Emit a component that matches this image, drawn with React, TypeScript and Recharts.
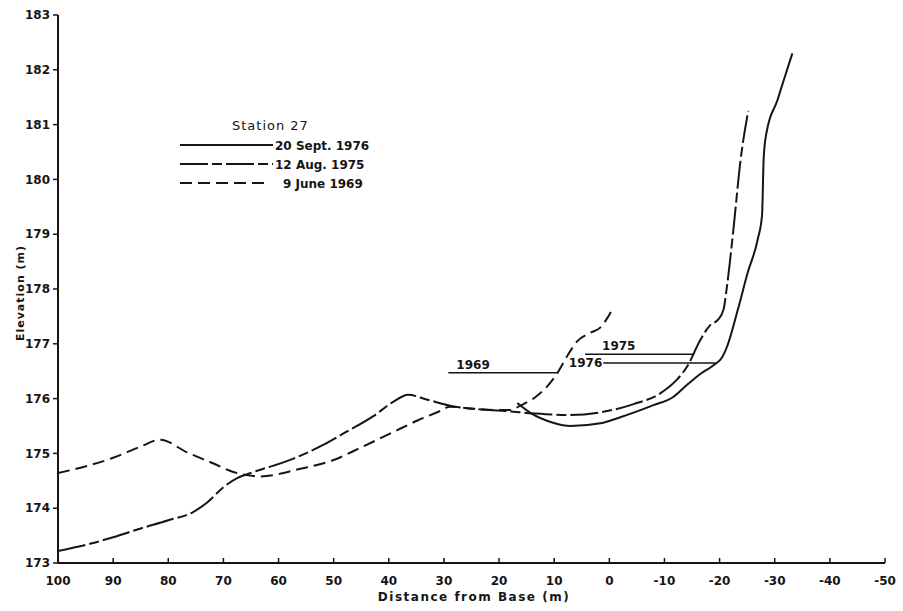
import { LineChart, Line, XAxis, YAxis, ReferenceLine, Legend, Label } from 'recharts'

const xTicks = [100, 90, 80, 70, 60, 50, 40, 30, 20, 10, 0, -10, -20, -30, -40, -50]
const yTicks = [173, 174, 175, 176, 177, 178, 179, 180, 181, 182, 183]

// profile surveys, distance from base (m) vs elevation (m)
const sept1976 = [
  { x: 16.7, y: 175.92 }, { x: 14.3, y: 175.74 }, { x: 10.2, y: 175.56 }, { x: 7.1, y: 175.5 },
  { x: 1.6, y: 175.55 }, { x: -2, y: 175.66 }, { x: -8, y: 175.88 }, { x: -11.6, y: 176.03 },
  { x: -14.2, y: 176.26 }, { x: -16.5, y: 176.45 }, { x: -18.9, y: 176.61 }, { x: -20.5, y: 176.76 },
  { x: -21.4, y: 176.96 }, { x: -23.3, y: 177.62 }, { x: -25.1, y: 178.3 }, { x: -26.9, y: 178.9 },
  { x: -27.7, y: 179.35 }, { x: -28, y: 180.4 }, { x: -28.5, y: 180.85 }, { x: -30.5, y: 181.45 },
  { x: -31.6, y: 181.8 }, { x: -33.2, y: 182.3 },
]

const aug1975 = [
  { x: 100, y: 173.22 }, { x: 94.2, y: 173.35 }, { x: 90, y: 173.47 }, { x: 85, y: 173.63 },
  { x: 80, y: 173.78 }, { x: 75.5, y: 173.93 }, { x: 73, y: 174.1 }, { x: 69.9, y: 174.39 },
  { x: 67.5, y: 174.55 }, { x: 65.7, y: 174.62 }, { x: 57.4, y: 174.9 }, { x: 52, y: 175.15 },
  { x: 48.3, y: 175.36 }, { x: 42.8, y: 175.68 }, { x: 39.2, y: 175.94 }, { x: 36.5, y: 176.07 },
  { x: 33, y: 175.98 }, { x: 28.9, y: 175.87 }, { x: 22.9, y: 175.8 }, { x: 18.5, y: 175.77 },
  { x: 13.8, y: 175.73 }, { x: 7.6, y: 175.7 }, { x: 1.6, y: 175.75 }, { x: -4.4, y: 175.9 },
  { x: -9.3, y: 176.1 }, { x: -12.3, y: 176.35 }, { x: -14.2, y: 176.6 }, { x: -16.5, y: 177.07 },
  { x: -18.3, y: 177.34 }, { x: -19.8, y: 177.45 }, { x: -20.7, y: 177.62 }, { x: -21.4, y: 178.1 },
  { x: -22.5, y: 179.08 }, { x: -23.8, y: 180.35 }, { x: -25.2, y: 181.25 },
]

const june1969 = [
  { x: 100, y: 174.64 }, { x: 90, y: 174.92 }, { x: 85.1, y: 175.12 }, { x: 81.5, y: 175.25 },
  { x: 76.6, y: 175.02 }, { x: 71.9, y: 174.82 }, { x: 68.2, y: 174.66 }, { x: 65.5, y: 174.6 },
  { x: 63.3, y: 174.58 }, { x: 56, y: 174.72 }, { x: 50, y: 174.88 }, { x: 45.2, y: 175.1 },
  { x: 39.2, y: 175.39 }, { x: 34.8, y: 175.6 }, { x: 31, y: 175.76 }, { x: 28.9, y: 175.85 },
  { x: 23, y: 175.8 }, { x: 18, y: 175.79 }, { x: 16, y: 175.88 }, { x: 13.5, y: 176.02 },
  { x: 11.3, y: 176.22 }, { x: 9.4, y: 176.47 }, { x: 7.5, y: 176.8 }, { x: 5.8, y: 177.05 },
  { x: 3.5, y: 177.2 }, { x: 1.6, y: 177.3 }, { x: 0.5, y: 177.45 }, { x: -0.5, y: 177.62 },
]

// water level marks
const level1969 = [{ x: 29.2, y: 176.47 }, { x: 9.4, y: 176.47 }]
const level1975 = [{ x: 4.4, y: 176.81 }, { x: -15.2, y: 176.81 }]
const level1976 = [{ x: 1.1, y: 176.65 }, { x: -19.2, y: 176.65 }]

const legendRows = [
  { name: '20 Sept. 1976', dash: undefined, textX: 100 },
  { name: '12 Aug. 1975', dash: '28 4 10 4', textX: 100 },
  { name: '9 June 1969', dash: '12 6', textX: 108 },
]

const font = "'DejaVu Sans', sans-serif"
const ink = '#151515'

function XTick(props: any) {
  const { x, y, payload } = props
  return (
    <g>
      <line x1={x} x2={x} y1={y} y2={y - 5} stroke={ink} strokeWidth={1.5} />
      <text x={x} y={y + 22} textAnchor="middle" fontFamily={font} fontSize={12} fontWeight="bold" fill={ink}>
        {payload.value}
      </text>
    </g>
  )
}

function StationLegend() {
  return (
    <svg width={230} height={90}>
      <text x={57} y={22} fontFamily={font} fontSize={13} fill={ink} letterSpacing={1}>Station 27</text>
      {legendRows.map((r, i) => {
        const ly = 37 + i * 19
        return (
          <g key={r.name}>
            <line x1={5} x2={i === 2 ? 93 : 98} y1={ly} y2={ly} stroke={ink} strokeWidth={2} strokeDasharray={r.dash} />
            <text x={r.textX} y={ly + 4.5} fontFamily={font} fontSize={12} fontWeight="bold" fill={ink}>{r.name}</text>
          </g>
        )
      })}
    </svg>
  )
}

function segLabel(text: string, dx: number, dy: number, anchor: string) {
  return (props: any) => {
    const vb = props.viewBox || {}
    return (
      <text x={vb.x + dx} y={vb.y + dy} textAnchor={anchor} fontFamily={font} fontSize={12} fontWeight="bold" fill={ink}>
        {text}
      </text>
    )
  }
}

export default function App() {
  return (
    <div style={{ position: 'absolute', left: 0, top: 0, background: '#fff' }}>
      <LineChart width={903} height={611} margin={{ top: 15, right: 18, bottom: 0, left: 0 }}>
        <XAxis
          type="number"
          dataKey="x"
          domain={[-50, 100]}
          reversed
          ticks={xTicks}
          interval={0}
          allowDataOverflow
          height={48}
          tickLine={false}
          tickSize={0}
          tickMargin={0}
          tick={<XTick />}
          axisLine={{ stroke: ink, strokeWidth: 2 }}
        >
          <Label
            content={() => (
              <text x={474} y={601} textAnchor="middle" fontFamily={font} fontSize={12} fontWeight="bold" fill={ink} letterSpacing={1.5}>
                Distance from Base (m)
              </text>
            )}
          />
        </XAxis>
        <YAxis
          type="number"
          domain={[173, 183]}
          ticks={yTicks}
          interval={0}
          allowDataOverflow
          width={58}
          tickSize={5}
          tickMargin={3}
          tick={{ fontFamily: font, fontSize: 12, fontWeight: 'bold', fill: ink }}
          tickLine={{ stroke: ink, strokeWidth: 1.5 }}
          axisLine={{ stroke: ink, strokeWidth: 2 }}
        >
          <Label
            content={() => (
              <text x={24} y={293} transform="rotate(-90 24 293)" textAnchor="middle" fontFamily={font} fontSize={11} fontWeight="bold" fill={ink} letterSpacing={1}>
                Elevation (m)
              </text>
            )}
          />
        </YAxis>
        <Legend
          layout="vertical"
          align="center"
          verticalAlign="middle"
          content={() => <StationLegend />}
          wrapperStyle={{ left: 175, top: 108, width: 230, height: 90 }}
        />
        <ReferenceLine segment={level1969} stroke={ink} strokeWidth={1.5} ifOverflow="visible" label={segLabel('1969', 8, -4, 'start')} />
        <ReferenceLine segment={level1975} stroke={ink} strokeWidth={1.5} ifOverflow="visible" label={segLabel('1975', 17, -4, 'start')} />
        <ReferenceLine segment={level1976} stroke={ink} strokeWidth={1.5} ifOverflow="visible" label={segLabel('1976', -1, 4.5, 'end')} />
        <Line data={june1969} dataKey="y" type="monotone" stroke={ink} strokeWidth={2} strokeDasharray="12 6" dot={false} isAnimationActive={false} />
        <Line data={aug1975} dataKey="y" type="monotone" stroke={ink} strokeWidth={2} strokeDasharray="28 4 10 4" dot={false} isAnimationActive={false} />
        <Line data={sept1976} dataKey="y" type="monotone" stroke={ink} strokeWidth={2} dot={false} isAnimationActive={false} />
      </LineChart>
    </div>
  )
}
